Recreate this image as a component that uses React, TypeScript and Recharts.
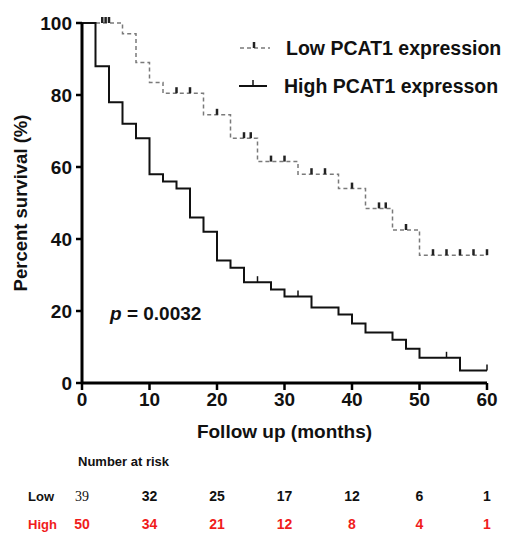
import { ComposedChart, Line, Scatter, XAxis, YAxis } from 'recharts';

// Kaplan-Meier steps (months, % surviving)
const lowTimes = [0, 6, 8, 10, 12, 18, 22, 26, 32, 38, 42, 46, 50, 60];
const lowSurv = [100, 97, 89, 83.5, 80.5, 74.5, 68, 61.5, 58, 54, 48.5, 42.5, 35.5, 35.5];
const lowCensorTimes = [3, 3.5, 4, 14, 16, 20, 24, 25, 28, 30, 34, 36, 40, 44, 45, 48, 52, 54, 56, 58, 60];
const lowCensorSurv = [100, 100, 100, 80.5, 80.5, 74.5, 68, 68, 61.5, 61.5, 58, 58, 54, 48.5, 48.5, 42.5, 35.5, 35.5, 35.5, 35.5, 35.5];

const highTimes = [0, 2, 4, 6, 8, 10, 12, 14, 16, 18, 20, 22, 24, 28, 30, 34, 38, 40, 42, 46, 48, 50, 56, 60];
const highSurv = [100, 88, 78, 72, 68, 58, 56, 54, 46, 42, 34, 32, 28, 26, 24, 21, 19, 16.5, 14, 12, 9.5, 7, 3.5, 3.5];
const highCensorTimes = [26, 32, 54, 60];
const highCensorSurv = [28, 24, 7, 3.5];

const xTicks = [0, 10, 20, 30, 40, 50, 60];
const yTicks = [0, 20, 40, 60, 80, 100];

// number at risk table
const riskTimes = [0, 10, 20, 30, 40, 50, 60];
const lowRisk = [39, 32, 25, 17, 12, 6, 1];
const highRisk = [50, 34, 21, 12, 8, 4, 1];

const SANS = '"Liberation Sans", Arial, sans-serif';
const SERIF = '"Liberation Serif", "Times New Roman", serif';
const RED = '#f01c1c';

const lowData = lowTimes.map((t, i) => ({ t, s: lowSurv[i] }));
const highData = highTimes.map((t, i) => ({ t, s: highSurv[i] }));
const lowCensor = lowCensorTimes.map((t, i) => ({ t, s: lowCensorSurv[i] }));
const highCensor = highCensorTimes.map((t, i) => ({ t, s: highCensorSurv[i] }));
const lowRiskData = riskTimes.map((t, i) => ({ t, n: lowRisk[i] }));
const highRiskData = riskTimes.map((t, i) => ({ t, n: highRisk[i] }));

const censorMark = (color: string, w: number) => (props: any) => {
  const { cx, cy } = props;
  return <line x1={cx} x2={cx} y1={cy} y2={cy - 6} stroke={color} strokeWidth={w} />;
};

const riskTick = (values: number[], color: string, dy: number, serifFirst: boolean) => (props: any) => {
  const { x, y, payload } = props;
  const i = riskTimes.indexOf(payload.value);
  if (i < 0) return <g />;
  const serif = serifFirst && i === 0;
  return (
    <text
      x={x}
      y={y + dy}
      textAnchor="middle"
      dominantBaseline="central"
      fill={color}
      fontFamily={serif ? SERIF : SANS}
      fontWeight={serif ? 'normal' : 'bold'}
      fontSize={14}
    >
      {values[i]}
    </text>
  );
};

export default function App() {
  return (
    <div style={{ position: 'absolute', left: 0, top: 0, width: 507, height: 534, background: '#fff' }}>
      <ComposedChart width={507} height={534} margin={{ top: 23, right: 20, left: 0, bottom: 0 }}>
        <XAxis
          dataKey="t"
          type="number"
          domain={[0, 60]}
          ticks={xTicks}
          height={67}
          axisLine={{ stroke: '#000', strokeWidth: 3 }}
          tickLine={{ stroke: '#000', strokeWidth: 2.5 }}
          tickSize={7}
          tickMargin={3}
          tick={{ fill: '#111', fontSize: 19, fontWeight: 'bold', fontFamily: SANS }}
          label={{
            value: 'Follow up (months)',
            position: 'insideBottom',
            offset: 12,
            style: { fill: '#111', fontSize: 19, fontWeight: 'bold', fontFamily: SANS, textAnchor: 'middle' },
          }}
        />
        {/* High row: outermost axis */}
        <XAxis
          xAxisId="row2"
          dataKey="t"
          type="number"
          domain={[0, 60]}
          ticks={riskTimes}
          height={28}
          axisLine={false}
          tickLine={false}
          tickSize={0}
          tickMargin={0}
          tick={riskTick(highRisk, RED, 18, false)}
        />
        {/* Low row: just under the main axis */}
        <XAxis
          xAxisId="row1"
          dataKey="t"
          type="number"
          domain={[0, 60]}
          ticks={riskTimes}
          height={56}
          axisLine={false}
          tickLine={false}
          tickSize={0}
          tickMargin={0}
          tick={riskTick(lowRisk, '#111', 46, true)}
        />
        <YAxis
          type="number"
          domain={[0, 100]}
          ticks={yTicks}
          width={82}
          axisLine={{ stroke: '#000', strokeWidth: 3 }}
          tickLine={{ stroke: '#000', strokeWidth: 2.5 }}
          tickSize={6}
          tickMargin={4}
          tick={{ fill: '#111', fontSize: 19, fontWeight: 'bold', fontFamily: SANS }}
          label={{
            value: 'Percent survival (%)',
            angle: -90,
            position: 'insideLeft',
            offset: 20,
            style: { fill: '#111', fontSize: 18.5, fontWeight: 'bold', fontFamily: SANS, textAnchor: 'middle' },
          }}
        />
        {/* invisible carriers so the risk-table axes get drawn */}
        <Line xAxisId="row1" data={lowRiskData} dataKey="n" stroke="none" dot={false} activeDot={false} legendType="none" isAnimationActive={false} />
        <Line xAxisId="row2" data={highRiskData} dataKey="n" stroke="none" dot={false} activeDot={false} legendType="none" isAnimationActive={false} />
        <Line
          data={lowData}
          dataKey="s"
          type="stepAfter"
          stroke="#7a7a7a"
          strokeWidth={1.5}
          strokeDasharray="4 3"
          dot={false}
          isAnimationActive={false}
        />
        <Line
          data={highData}
          dataKey="s"
          type="stepAfter"
          stroke="#111"
          strokeWidth={2}
          dot={false}
          isAnimationActive={false}
        />
        <Scatter data={lowCensor} dataKey="s" shape={censorMark('#222', 2.5)} isAnimationActive={false} />
        <Scatter data={highCensor} dataKey="s" shape={censorMark('#111', 1.5)} isAnimationActive={false} />
      </ComposedChart>
      <svg
        width={507}
        height={534}
        style={{ position: 'absolute', left: 0, top: 0, pointerEvents: 'none' }}
        fontFamily={SANS}
      >
        <line x1={240} x2={270} y1={48} y2={48} stroke="#7a7a7a" strokeWidth={1.5} strokeDasharray="4 3" />
        <line x1={254} x2={254} y1={48} y2={42} stroke="#222" strokeWidth={2.5} />
        <text x={286} y={48} dominantBaseline="central" fontSize={19.5} fontWeight="bold" fill="#111">
          Low PCAT1 expression
        </text>
        <line x1={239} x2={267} y1={86} y2={86} stroke="#111" strokeWidth={2} />
        <line x1={253} x2={253} y1={86} y2={80} stroke="#111" strokeWidth={1.5} />
        <text x={284} y={86} dominantBaseline="central" fontSize={19.5} fontWeight="bold" fill="#111">
          High PCAT1 expresson
        </text>
        <text x={110} y={313} dominantBaseline="central" fontSize={19} fontWeight="bold" fill="#111">
          <tspan fontStyle="italic">p</tspan> = 0.0032
        </text>
        <text x={78} y={461} dominantBaseline="central" fontSize={13} fontWeight="bold" fill="#111">
          Number at risk
        </text>
        <text x={28} y={496} dominantBaseline="central" fontSize={13} fontWeight="bold" fill="#111">
          Low
        </text>
        <text x={28} y={524} dominantBaseline="central" fontSize={13} fontWeight="bold" fill={RED}>
          High
        </text>
      </svg>
    </div>
  );
}
